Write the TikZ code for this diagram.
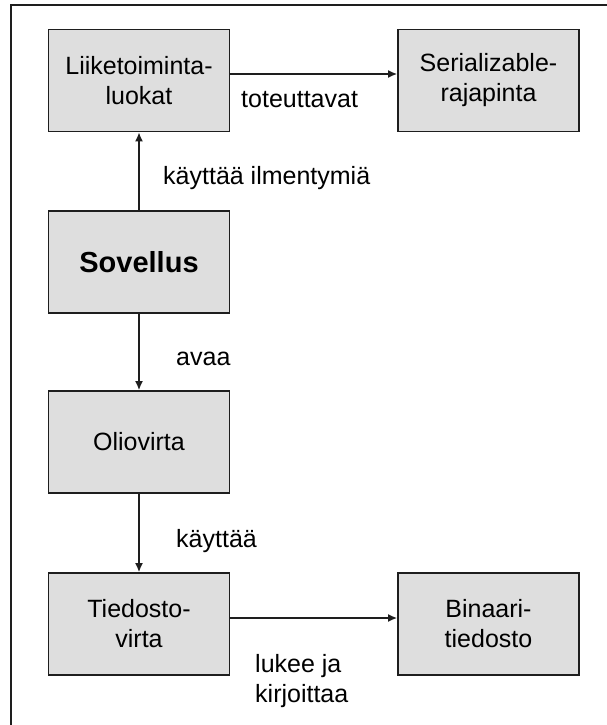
\documentclass[tikz,border=0pt]{standalone}
\usepackage{fontspec}
\setmainfont{Liberation Sans}
\usetikzlibrary{arrows.meta}
\definecolor{boxfill}{HTML}{DEDEDE}
\definecolor{edge}{HTML}{1E1E1E}
\tikzset{
  box/.style={draw=edge, line width=1.8pt, fill=boxfill, minimum width=181pt, minimum height=102pt,
    inner sep=0pt, align=center, font=\fontsize{25}{30}\selectfont},
  lbl/.style={inner sep=0pt, align=left, font=\fontsize{25}{30}\selectfont},
  conn/.style={draw=edge, line width=1.5pt, -{Latex[length=9pt,width=8pt]}}
}
\begin{document}
\begin{tikzpicture}[x=1pt,y=-1pt]
\useasboundingbox (0,0) rectangle (607,725);
\fill[white] (0,0) rectangle (607,725);
% outer frame (open on the right and at the bottom)
\draw[edge, line width=1.8pt] (11,726) -- (11,5) -- (608,5);

% boxes
\node[box] (liike) at (139,80.5) {Liiketoiminta-\\luokat};
\node[box] (serial) at (488.5,80.5) {Serializable-\\rajapinta};
\node[box, font=\fontsize{29}{34}\bfseries] (sov) at (139,262) {Sovellus};
\node[box] (olio) at (139,442) {Oliovirta};
\node[box] (tied) at (139,624) {Tiedosto-\\virta};
\node[box] (bin) at (488.5,624) {Binaari-\\tiedosto};

% connectors
\draw[conn] (liike.east |- 0,74) -- (serial.west |- 0,74);
\draw[conn] (sov) -- (liike);
\draw[conn] (sov) -- (olio);
\draw[conn] (olio) -- (tied);
\draw[conn] (tied.east |- 0,618) -- (bin.west |- 0,618);

% connector labels
\node[lbl, anchor=base west] (l1) at (241,107) {toteuttavat};
\node[lbl, anchor=base west] (l2) at (163,184) {käyttää ilmentymiä};
\node[lbl, anchor=base west] (l3) at (176,365) {avaa};
\node[lbl, anchor=base west] (l4) at (176,547) {käyttää};
\node[lbl, anchor=base west] (l5) at (255,672) {lukee ja};
\node[lbl, anchor=base west] (l6) at (255,702) {kirjoittaa};
\end{tikzpicture}
\end{document}
